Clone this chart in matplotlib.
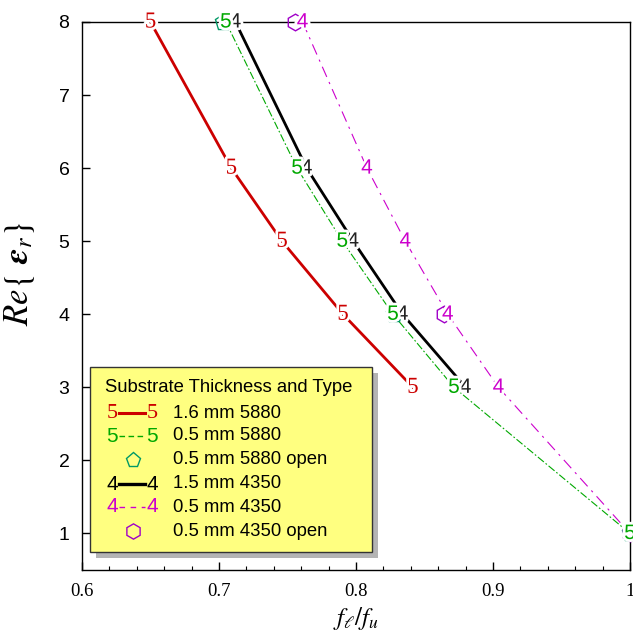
import matplotlib
matplotlib.use("Agg")
import matplotlib.pyplot as plt
import matplotlib.patheffects as pe
from matplotlib.patches import Rectangle
from matplotlib.lines import Line2D

plt.rcParams['mathtext.fontset'] = 'stix'

# ---- data ----
eps_thick5880 = [8, 6, 5, 4, 3]
f_thick5880 = [0.650, 0.709, 0.746, 0.7905, 0.8415]

eps_thin5880 = [8, 6, 5, 4, 3, 1]
f_thin5880 = [0.705, 0.757, 0.790, 0.827, 0.8715, 1.0]

eps_open5880 = [8, 4, 1]
f_open5880 = [0.703, 0.828, 1.0]

eps_thick4350 = [8, 6, 5, 4, 3]
f_thick4350 = [0.712, 0.764, 0.798, 0.834, 0.880]

eps_thin4350 = [8, 6, 5, 4, 3, 1]
f_thin4350 = [0.761, 0.808, 0.836, 0.867, 0.904, 1.0]

eps_open4350 = [8, 4, 1]
f_open4350 = [0.7555, 0.864, 1.0]

x_ticks = [0.6, 0.7, 0.8, 0.9, 1.0]
x_ticklabels = ["0.6", "0.7", "0.8", "0.9", "1"]
y_ticks = [1, 2, 3, 4, 5, 6, 7, 8]

legend_title = "Substrate Thickness and Type"
legend_labels = ["1.6 mm 5880", "0.5 mm 5880", "0.5 mm 5880 open",
                 "1.5 mm 4350", "0.5 mm 4350", "0.5 mm 4350 open"]

RED = "#CC0000"
GREEN = "#00A800"
TEAL = "#009966"
MAG = "#CC00CC"
PURP = "#A000C8"

W, H = 633, 634
fig = plt.figure(figsize=(W / 100, H / 100), dpi=100)
ax = fig.add_axes([82 / W, 1 - 570 / H, (630 - 82) / W, (570 - 22) / H])

ax.set_xlim(0.6, 1.0)
ax.set_ylim(0.5, 8.0)

halo = [pe.withStroke(linewidth=4, foreground="white")]

# lines
ax.plot(f_thick5880, eps_thick5880, color=RED, lw=2.0, clip_on=False, zorder=2)
ax.plot(f_thick4350, eps_thick4350, color="black", lw=2.0, clip_on=False, zorder=2)
ax.plot(f_thin5880, eps_thin5880, color=GREEN, lw=0.8, ls=(0, (7, 2, 1.5, 2)), clip_on=False, zorder=2)
ax.plot(f_thin4350, eps_thin4350, color=MAG, lw=0.8, ls=(0, (10, 5, 2, 5)), clip_on=False, zorder=2)

# open markers
ax.plot(f_open5880, eps_open5880, ls="none", marker="p", ms=12, mfc="none", mec=TEAL, mew=1.0, clip_on=False, zorder=3)
ax.plot(f_open4350, eps_open4350, ls="none", marker="h", ms=12, mfc="none", mec=PURP, mew=1.0, clip_on=False, zorder=3)

# text markers
def text_marks(xs, ys, ch, color, family, size, z):
    for x, y in zip(xs, ys):
        ax.text(x, y, ch, color=color, family=family, fontsize=size,
                ha="center", va="center", zorder=z, clip_on=False,
                path_effects=halo)

text_marks(f_thick5880, eps_thick5880, "5", RED, "Liberation Serif", 16.5, 4)
text_marks(f_thin5880, eps_thin5880, "5", GREEN, "Liberation Sans", 15, 5)
text_marks(f_thick4350, eps_thick4350, "4", "#222222", "Liberation Sans", 15, 4)
text_marks(f_thin4350, eps_thin4350, "4", MAG, "Liberation Sans", 15, 4)

# axes styling
ax.set_xticks(x_ticks)
ax.set_xticklabels(x_ticklabels, fontfamily="Liberation Serif", fontsize=13.5)
ax.set_xticks([0.6 + 0.02 * i for i in range(21)], minor=True)
ax.set_yticks(y_ticks)
ax.set_yticklabels([str(v) for v in y_ticks], fontfamily="Liberation Sans", fontsize=14)
ax.tick_params(axis="both", which="major", direction="in", length=6, width=1,
               top=False, right=False, pad=9)
ax.tick_params(axis="x", which="minor", direction="in", length=3, width=0.8, top=False)
for s in ax.spines.values():
    s.set_linewidth(1.0)
    s.set_zorder(1)

ax.set_ylabel(r"$Re\{\ \boldsymbol{\epsilon}_{r}\}$", fontsize=25)
ax.yaxis.set_label_coords(-0.083, 0.54)
ax.set_xlabel(r"$f_{\ell}/f_{u}$", fontsize=18, labelpad=4)

# ---- manual legend (pixel layout) ----
def fx(px):
    return px / W

def fy(py):
    return 1 - py / H

bx0, by0, bx1, by1 = 90, 367, 372, 552
fig.add_artist(Rectangle((fx(bx0 + 6), fy(by1 + 6)), fx(bx1 - bx0), (by1 - by0) / H,
                         transform=fig.transFigure, facecolor="#B4B4B4", edgecolor="none", zorder=5))
fig.add_artist(Rectangle((fx(bx0), fy(by1)), fx(bx1 - bx0), (by1 - by0) / H,
                         transform=fig.transFigure, facecolor="#FFFF80", edgecolor="#333333",
                         lw=1.0, zorder=6))
fig.text(fx(105), fy(388), legend_title, fontsize=13.3, family="Liberation Sans",
         va="center", ha="left", zorder=7)

rows_y = [413, 436, 460, 484, 507, 531]
handles = [("5", RED, "Liberation Serif", "-", 2.2, 16),
           ("5", GREEN, "Liberation Sans", (0, (4, 2.5)), 1.0, 15),
           (None, TEAL, None, "p", None, None),
           ("4", "black", "Liberation Sans", "-", 2.4, 15),
           ("4", MAG, "Liberation Sans", (0, (4, 4)), 1.0, 15),
           (None, PURP, None, "h", None, None)]
for ry, lab, h in zip(rows_y, legend_labels, handles):
    ch, col, fam, style, lw, sz = h
    if ch is None:
        fig.add_artist(Line2D([fx(133)], [fy(ry)], transform=fig.transFigure, ls="none",
                              marker=style, ms=11, mfc="none", mec=col, mew=1.0, zorder=7))
    else:
        fig.text(fx(112), fy(ry), ch, color=col, family=fam, fontsize=sz,
                 ha="center", va="center", zorder=7)
        fig.text(fx(152), fy(ry), ch, color=col, family=fam, fontsize=sz,
                 ha="center", va="center", zorder=7)
        fig.add_artist(Line2D([fx(119), fx(145)], [fy(ry), fy(ry)], transform=fig.transFigure,
                              color=col, lw=lw, ls=style, zorder=7))
    fig.text(fx(173), fy(ry), lab, fontsize=13.3, family="Liberation Sans",
             va="center", ha="left", zorder=7)

fig.savefig("out.png", dpi=100)
